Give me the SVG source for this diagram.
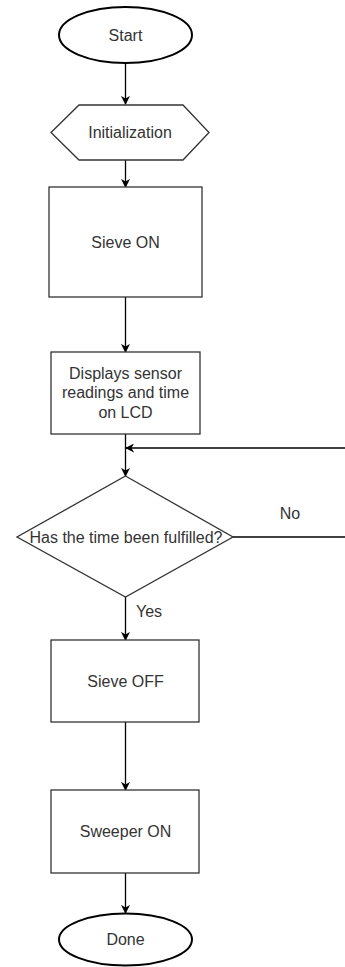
<svg xmlns="http://www.w3.org/2000/svg" width="345" height="967" viewBox="0 0 345 967">
<defs>
<marker id="ah" viewBox="0 0 10 10" refX="9" refY="5" markerWidth="9" markerHeight="9" markerUnits="userSpaceOnUse" orient="auto">
<path d="M0,0 L10,5 L0,10 L3,5 Z" fill="#000"/>
</marker>
<style>
.n{fill:#fff;stroke:#333;stroke-width:1.3}
.t{fill:#fff;stroke:#000;stroke-width:2}
.c{fill:none;stroke:#000;stroke-width:1.3}
text{font-family:"Liberation Sans",Arial,sans-serif;font-size:16px;fill:#333;text-anchor:middle;dominant-baseline:central}
</style>
</defs>
<rect width="345" height="967" fill="#fff"/>
<g id="connectors">
<line class="c" x1="125.5" y1="63" x2="125.5" y2="104" marker-end="url(#ah)"/>
<line class="c" x1="125.5" y1="160" x2="125.5" y2="187" marker-end="url(#ah)"/>
<line class="c" x1="125.5" y1="297" x2="125.5" y2="352" marker-end="url(#ah)"/>
<line class="c" x1="125.5" y1="434" x2="125.5" y2="476" marker-end="url(#ah)"/>
<polyline class="c" points="233,537 345,537"/>
<line class="c" x1="345" y1="448" x2="126" y2="448" marker-end="url(#ah)"/>
<line class="c" x1="125.5" y1="597" x2="125.5" y2="640" marker-end="url(#ah)"/>
<line class="c" x1="125.5" y1="722" x2="125.5" y2="790" marker-end="url(#ah)"/>
<line class="c" x1="125.5" y1="873" x2="125.5" y2="913" marker-end="url(#ah)"/>
<text x="290" y="513">No</text>
<text x="149" y="611">Yes</text>
</g>
<g id="start">
<ellipse class="t" cx="125.5" cy="35" rx="66.5" ry="28"/>
<text x="125.5" y="35">Start</text>
</g>
<g id="init">
<polygon class="n" points="51,132.5 79,105 183,105 209,132.5 183,160 79,160"/>
<text x="130" y="132.5">Initialization</text>
</g>
<g id="sieve-on">
<rect class="n" x="49" y="187" width="153" height="110"/>
<text x="125.5" y="242">Sieve ON</text>
</g>
<g id="display">
<rect class="n" x="51" y="352" width="149" height="82"/>
<text x="125.5" y="373">Displays sensor</text>
<text x="125.5" y="392.5">readings and time</text>
<text x="125.5" y="412">on LCD</text>
</g>
<g id="decision">
<polygon class="n" points="125.5,476 233,537 125.5,597 17,537"/>
<text x="126" y="537">Has the time been fulfilled?</text>
</g>
<g id="sieve-off">
<rect class="n" x="51" y="640" width="148" height="82"/>
<text x="125.5" y="681">Sieve OFF</text>
</g>
<g id="sweeper">
<rect class="n" x="51" y="790" width="148" height="83"/>
<text x="125.5" y="831">Sweeper ON</text>
</g>
<g id="done">
<ellipse class="t" cx="125.5" cy="939.5" rx="66.5" ry="26"/>
<text x="125.5" y="939.5">Done</text>
</g>
</svg>
